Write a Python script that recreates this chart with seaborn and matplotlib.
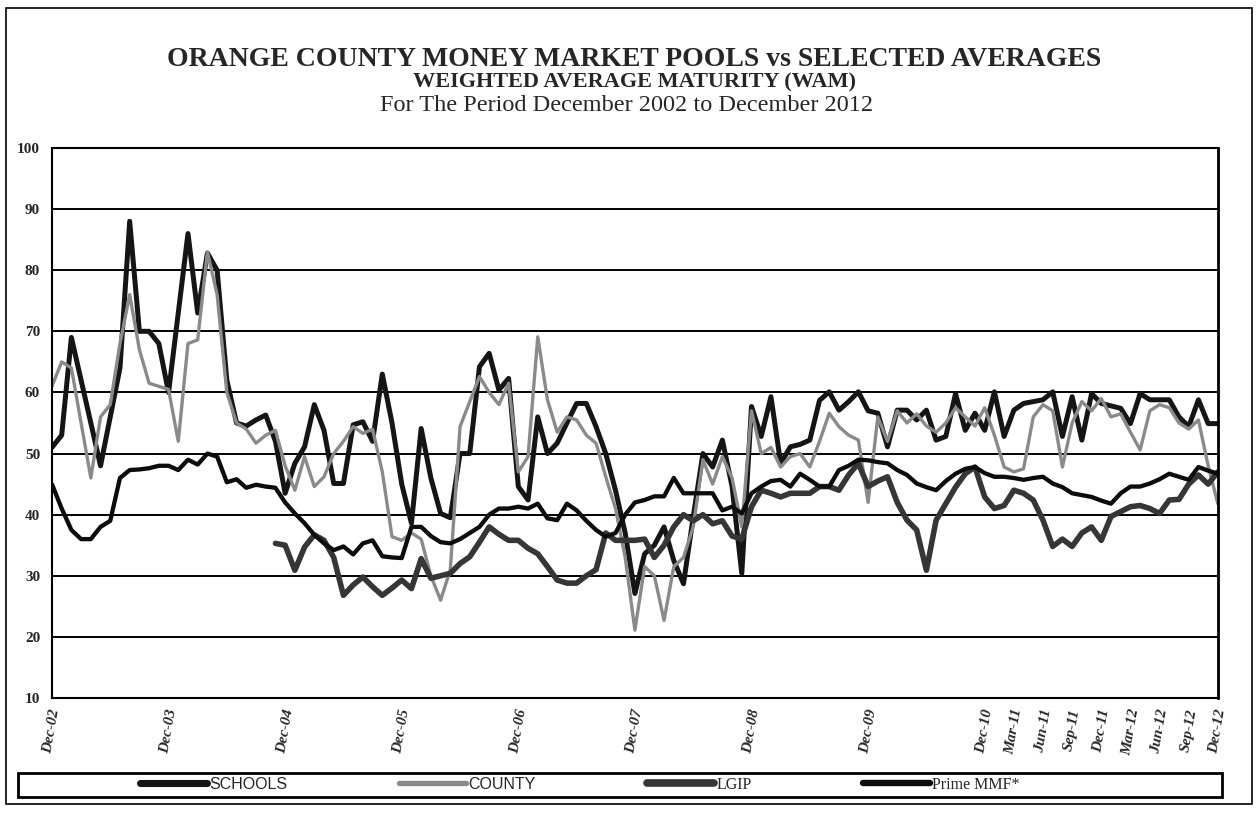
import numpy as np
import pandas as pd
import seaborn as sns
import matplotlib.pyplot as plt
from matplotlib.patches import Rectangle

# monthly WAM (days), Dec-02 .. Dec-12
months = pd.date_range('2002-12-01', '2012-12-01', freq='MS')

schools = [51, 53, 69, 62, 55, 48, 56, 64, 88, 70, 70, 68, 60,
           73, 86, 73, 82.8, 80, 62, 55, 54.5, 55.5, 56.3, 52, 43.5,
           48.4, 51.1, 58, 53.8, 45.1, 45.1, 54.7, 55.2, 52, 63, 55, 45,
           38.6, 54.1, 46, 40.2, 39.5, 50, 50, 64.2, 66.4, 60.4, 62.3, 44.6,
           42.4, 56, 50, 51.7, 55, 58.2, 58.2, 54.4, 50, 44, 37, 27.1,
           33.6, 35, 38, 32.5, 28.7, 39.6, 50, 47.8, 52.2, 44.6, 30.4, 57.7,
           52.8, 59.3, 48.4, 51.1, 51.5, 52.2, 58.7, 60.1, 57.1, 58.5, 60.1, 57,
           56.6, 51.1, 57.1, 57.1, 55.5, 57.1, 52.2, 52.8, 59.8, 53.8, 56.6, 53.8,
           60.1, 52.8, 57.1, 58.2, 58.5, 58.8, 60.1, 52.8, 59.3, 52.2, 59.8, 58.2,
           57.8, 57.4, 54.9, 59.8, 58.8, 58.8, 58.8, 56, 54.4, 58.8, 54.9, 54.9]

county = [61, 65, 64, 55, 46, 56, 58, 68, 76, 67, 61.5, 61, 60.5,
          52, 68, 68.6, 83, 76, 60, 55, 54, 51.7, 53, 53.8, 48,
          44, 49.5, 44.6, 46.2, 50, 52, 54.4, 53.3, 54, 47, 36.4, 35.8,
          37, 36, 30, 26, 31, 54.4, 58.5, 62.6, 60, 58, 61.5, 47,
          49.5, 69.1, 58.8, 53.5, 56, 55.5, 53, 51.7, 46.2, 41, 33, 21.1,
          31.5, 30, 22.7, 31.5, 33, 38, 49, 45, 49.5, 46, 38, 57,
          50, 51, 47.8, 49.5, 50, 47.8, 52, 56.6, 54.4, 53, 52.2, 42,
          56, 52, 57, 55, 56.5, 54.5, 53.5, 55, 57.5, 56, 54.5, 57.5,
          53, 47.8, 47, 47.5, 56, 58, 57, 47.8, 55, 58.5, 57, 59,
          56, 56.5, 53.5, 50.6, 57, 58, 57.5, 55, 54, 55.5, 48, 41.8]

# LGIP series begins in late 2004
lgip = [np.nan] * 23 + [35.3, 35,
        30.9, 34.7, 36.7, 35.8, 33, 26.8, 28.5, 29.8, 28.2, 26.8, 28, 29.3,
        27.9, 32.8, 29.6, 30, 30.4, 32, 33.1, 35.5, 38, 36.8, 35.8, 35.8,
        34.5, 33.6, 31.5, 29.3, 28.8, 28.8, 30, 31, 37, 35.8, 35.8, 35.8,
        36, 33, 35, 38, 40, 39, 40, 38.5, 39, 36.5, 36, 41.3,
        44, 43.5, 42.9, 43.5, 43.5, 43.5, 44.6, 44.6, 44, 46.5, 48.4, 44.6,
        45.5, 46.2, 42, 39.1, 37.5, 30.9, 39.1, 41.8, 44.5, 46.7, 47.8, 42.9,
        41, 41.5, 44, 43.5, 42.4, 39.1, 34.8, 36, 34.8, 37, 38, 35.8,
        39.7, 40.5, 41.3, 41.5, 41, 40.2, 42.4, 42.5, 45, 46.5, 45, 47]

prime = [45, 41, 37.5, 36, 36, 38, 39, 46, 47.3, 47.4, 47.6, 48, 48,
         47.3, 49, 48.2, 50, 49.5, 45.3, 45.8, 44.4, 44.9, 44.6, 44.4, 42,
         40.2, 38.6, 36.7, 35.3, 34.2, 34.8, 33.5, 35.3, 35.8, 33.2, 33, 32.9,
         38, 38, 36.5, 35.5, 35.3, 36, 37, 38, 40, 41, 41, 41.3,
         41, 41.8, 39.4, 39.1, 41.8, 40.7, 39, 37.5, 36.4, 37, 40, 42,
         42.4, 43, 43, 46, 43.5, 43.5, 43.5, 43.5, 40.7, 41.3, 40.2, 43.5,
         44.6, 45.5, 45.7, 44.6, 46.7, 45.7, 44.6, 44.6, 47.3, 48, 49, 48.9,
         48.6, 48.4, 47.3, 46.5, 45.1, 44.5, 44, 45.5, 46.7, 47.5, 47.8, 46.8,
         46.2, 46.2, 46, 45.7, 46, 46.2, 45.1, 44.5, 43.5, 43.2, 42.9, 42.3,
         41.8, 43.5, 44.6, 44.6, 45.1, 45.8, 46.7, 46.2, 45.7, 47.8, 47.2, 46.7]

tick_labels = ['Dec-02', 'Dec-03', 'Dec-04', 'Dec-05', 'Dec-06', 'Dec-07',
               'Dec-08', 'Dec-09', 'Dec-10', 'Mar-11', 'Jun-11', 'Sep-11',
               'Dec-11', 'Mar-12', 'Jun-12', 'Sep-12', 'Dec-12']

df = pd.DataFrame({'idx': np.arange(len(months)), 'SCHOOLS': schools,
                   'COUNTY': county, 'LGIP': lgip, 'Prime MMF*': prime})

sns.set_style('white')
plt.rcParams['font.family'] = ['Liberation Serif', 'DejaVu Serif']

fig = plt.figure(figsize=(12.58, 8.14), dpi=100)
ax = fig.add_axes([0.0413, 0.1425, 0.9268, 0.6757])

styles = [('SCHOOLS', '#151515', 3.6),
          ('COUNTY', '#8a8a8a', 2.4),
          ('LGIP', '#363636', 4.0),
          ('Prime MMF*', '#0c0c0c', 3.1)]
for name, col, lw in styles:
    sns.lineplot(data=df, x='idx', y=name, color=col, linewidth=lw,
                 estimator=None, ax=ax, label=name, legend=False)

ax.set_ylim(10, 100)
ax.set_yticks(range(10, 101, 10))
ax.set_xlim(0, len(months) - 1)
ax.set_xlabel('')
ax.set_ylabel('')
ax.yaxis.grid(True, color='black', linewidth=1.4)
ax.set_axisbelow(True)

lab = list(months.strftime('%b-%y'))
pos = [lab.index(t) for t in tick_labels]
ax.set_xticks(pos)
ax.set_xticklabels(tick_labels, rotation=80, ha='center', va='top',
                   fontsize=11, fontweight='bold', fontstyle='italic')
ax.set_xticks(np.arange(len(months)), minor=True)
ax.tick_params(axis='x', which='both', direction='out', length=4,
               width=1, color='black', pad=3)
ax.tick_params(axis='y', direction='out', length=5, width=1, color='black')
for t in ax.get_yticklabels():
    t.set_fontweight('bold')
    t.set_fontsize(11)

for s in ax.spines.values():
    s.set_visible(True)
    s.set_color('black')
    s.set_linewidth(1.5)
ax.spines['right'].set_linewidth(2)

fig.text(0.504, 0.927, 'ORANGE COUNTY MONEY MARKET POOLS vs SELECTED AVERAGES',
         ha='center', va='center', fontsize=20, fontweight='bold')
fig.text(0.504, 0.899, 'WEIGHTED AVERAGE MATURITY (WAM)',
         ha='center', va='center', fontsize=16, fontweight='bold')
fig.text(0.498, 0.870, 'For The Period December 2002 to December 2012',
         ha='center', va='center', fontsize=17.5)

# legend below the axes with its own box
handles = ax.get_lines()[:4]
leg = fig.legend(handles, [s[0] for s in styles], ncol=4, loc='center',
                 bbox_to_anchor=(0.461, 0.0356), frameon=False,
                 handlelength=4.2, handletextpad=0.12, columnspacing=7,
                 fontsize=11.5)
for h, (_, _, lw) in zip(leg.legend_handles, styles):
    h.set_linewidth(lw + 1.5)
for t in leg.get_texts()[:2]:
    t.set_family(['Liberation Sans', 'DejaVu Sans'])

fig.patches.append(Rectangle((0.0143, 0.0209), 0.957, 0.0295, fill=False,
                             lw=2, ec='black', transform=fig.transFigure))
fig.patches.append(Rectangle((0.005, 0.012), 0.99, 0.978, fill=False,
                             lw=1.2, ec='black', transform=fig.transFigure))

fig.savefig('out.png', dpi=100)
